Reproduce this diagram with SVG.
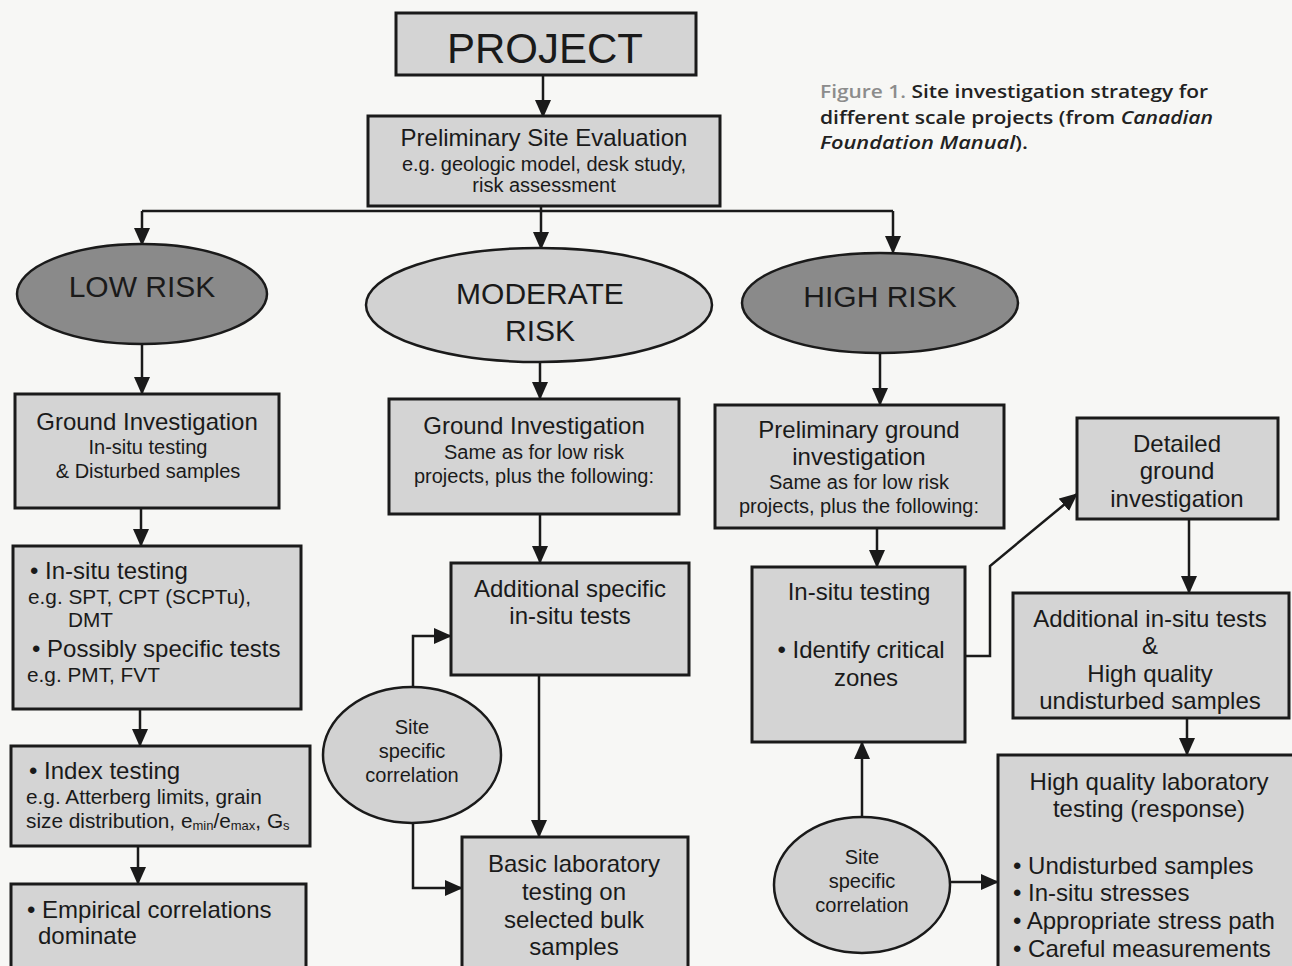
<svg xmlns="http://www.w3.org/2000/svg" width="1292" height="966" viewBox="0 0 1292 966">
<defs>
<marker id="ah" markerUnits="userSpaceOnUse" markerWidth="18" markerHeight="16" refX="17" refY="8" orient="auto">
<path d="M0,0 L18,8 L0,16 Z" fill="#1a1a1a"/>
</marker>
</defs>
<style>
.box{fill:#d4d4d4;stroke:#1a1a1a;stroke-width:3}
.ell-dark{fill:#8a8a8a;stroke:#1a1a1a;stroke-width:2.5}
.ell-light{fill:#d2d2d2;stroke:#1a1a1a;stroke-width:2.5}
.t{font-family:"Liberation Sans",Arial,sans-serif;fill:#1a1a1a}
.c{text-anchor:middle}
.m{font-size:24px}
.s{font-size:20px}
.s2{font-size:20.8px}
.big{font-size:30px}
.conn path{fill:none;stroke:#1a1a1a;stroke-width:2.5}
.arr{marker-end:url(#ah)}
.cap{font-family:"Open Sans","Liberation Sans",sans-serif;font-weight:600;font-size:18px;fill:#222}
</style>
<rect x="0" y="0" width="1292" height="966" fill="#f7f7f5"/>

<g class="conn" id="connectors">
<path class="arr" d="M543,75 V117"/>
<path d="M142,211 H893"/>
<path class="arr" d="M541,206 V249"/>
<path class="arr" d="M142,211 V245"/>
<path class="arr" d="M893,211 V253"/>
<path class="arr" d="M142,344 V394"/>
<path class="arr" d="M141,508 V546"/>
<path class="arr" d="M140,709 V746"/>
<path class="arr" d="M138,846 V884"/>
<path class="arr" d="M540,362 V399"/>
<path class="arr" d="M540,514 V563"/>
<path class="arr" d="M539,675 V837"/>
<path class="arr" d="M413,687 V636 H451"/>
<path class="arr" d="M413,823 V888 H462"/>
<path class="arr" d="M880,353 V405"/>
<path class="arr" d="M877,528 V567"/>
<path class="arr" d="M965,656 H990 V566 L1077,494"/>
<path class="arr" d="M1189,519 V593"/>
<path class="arr" d="M1187,718 V755"/>
<path class="arr" d="M862,817 V742"/>
<path class="arr" d="M950,882 H998"/>
</g>

<g id="project">
<rect class="box" x="396" y="13" width="300" height="62"/>
<text class="t c" x="545" y="63" font-size="42">PROJECT</text>
</g>

<g id="prelim-site-eval">
<rect class="box" x="368" y="116" width="352" height="90"/>
<text class="t c m" x="544" y="146">Preliminary Site Evaluation</text>
<text class="t c s" x="544" y="171">e.g. geologic model, desk study,</text>
<text class="t c s" x="544" y="192">risk assessment</text>
</g>

<g id="low-risk">
<ellipse class="ell-dark" cx="142" cy="294" rx="125" ry="50"/>
<text class="t c big" x="142" y="297">LOW RISK</text>
</g>

<g id="moderate-risk">
<ellipse class="ell-light" cx="539" cy="305" rx="173" ry="57"/>
<text class="t c big" x="540" y="304">MODERATE</text>
<text class="t c big" x="540" y="341">RISK</text>
</g>

<g id="high-risk">
<ellipse class="ell-dark" cx="880" cy="303" rx="138" ry="50"/>
<text class="t c big" x="880" y="307">HIGH RISK</text>
</g>

<g id="low-ground-investigation">
<rect class="box" x="15" y="394" width="264" height="114"/>
<text class="t c m" x="147" y="430">Ground Investigation</text>
<text class="t c s" x="148" y="454">In-situ testing</text>
<text class="t c s" x="148" y="478">&amp; Disturbed samples</text>
</g>

<g id="low-insitu">
<rect class="box" x="13" y="546" width="288" height="163"/>
<text class="t m" x="30" y="579">• In-situ testing</text>
<text class="t s2" x="28" y="604">e.g. SPT, CPT (SCPTu),</text>
<text class="t s2" x="68" y="627">DMT</text>
<text class="t m" x="32" y="657">• Possibly specific tests</text>
<text class="t s2" x="27" y="682">e.g. PMT, FVT</text>
</g>

<g id="low-index">
<rect class="box" x="11" y="746" width="299" height="100"/>
<text class="t m" x="29" y="779">• Index testing</text>
<text class="t s2" x="26" y="804">e.g. Atterberg limits, grain</text>
<text class="t s2" x="26" y="828">size distribution, e<tspan font-size="13" dy="2">min</tspan><tspan dy="-2">/e</tspan><tspan font-size="13" dy="2">max</tspan><tspan dy="-2">, G</tspan><tspan font-size="13" dy="2">s</tspan></text>
</g>

<g id="low-empirical">
<rect class="box" x="11" y="884" width="295" height="95"/>
<text class="t m" x="27" y="918">• Empirical correlations</text>
<text class="t m" x="38" y="944">dominate</text>
</g>

<g id="mod-ground-investigation">
<rect class="box" x="389" y="399" width="290" height="115"/>
<text class="t c m" x="534" y="434">Ground Investigation</text>
<text class="t c s" x="534" y="459">Same as for low risk</text>
<text class="t c s" x="534" y="483">projects, plus the following:</text>
</g>

<g id="mod-additional">
<rect class="box" x="451" y="563" width="238" height="112"/>
<text class="t c m" x="570" y="597">Additional specific</text>
<text class="t c m" x="570" y="624">in-situ tests</text>
</g>

<g id="mod-site-correlation">
<ellipse class="ell-light" cx="412" cy="755" rx="89" ry="68"/>
<text class="t c s" x="412" y="734">Site</text>
<text class="t c s" x="412" y="758">specific</text>
<text class="t c s" x="412" y="782">correlation</text>
</g>

<g id="mod-basic-lab">
<rect class="box" x="462" y="837" width="226" height="140"/>
<text class="t c m" x="574" y="872">Basic laboratory</text>
<text class="t c m" x="574" y="900">testing on</text>
<text class="t c m" x="574" y="928">selected bulk</text>
<text class="t c m" x="574" y="955">samples</text>
</g>

<g id="high-prelim-ground">
<rect class="box" x="715" y="405" width="289" height="123"/>
<text class="t c m" x="859" y="438">Preliminary ground</text>
<text class="t c m" x="859" y="465">investigation</text>
<text class="t c s" x="859" y="489">Same as for low risk</text>
<text class="t c s" x="859" y="513">projects, plus the following:</text>
</g>

<g id="high-insitu">
<rect class="box" x="752" y="567" width="213" height="175"/>
<text class="t c m" x="859" y="600">In-situ testing</text>
<text class="t c m" x="861" y="658">• Identify critical</text>
<text class="t c m" x="866" y="686">zones</text>
</g>

<g id="high-detailed">
<rect class="box" x="1077" y="418" width="201" height="101"/>
<text class="t c m" x="1177" y="452">Detailed</text>
<text class="t c m" x="1177" y="479">ground</text>
<text class="t c m" x="1177" y="507">investigation</text>
</g>

<g id="high-additional">
<rect class="box" x="1013" y="593" width="276" height="125"/>
<text class="t c m" x="1150" y="627">Additional in-situ tests</text>
<text class="t c m" x="1150" y="654">&amp;</text>
<text class="t c m" x="1150" y="682">High quality</text>
<text class="t c m" x="1150" y="709">undisturbed samples</text>
</g>

<g id="high-site-correlation">
<ellipse class="ell-light" cx="862" cy="885" rx="88" ry="68"/>
<text class="t c s" x="862" y="864">Site</text>
<text class="t c s" x="862" y="888">specific</text>
<text class="t c s" x="862" y="912">correlation</text>
</g>

<g id="high-lab">
<rect class="box" x="998" y="755" width="300" height="225"/>
<text class="t c m" x="1149" y="790">High quality laboratory</text>
<text class="t c m" x="1149" y="817">testing (response)</text>
<text class="t m" x="1013" y="874">• Undisturbed samples</text>
<text class="t m" x="1013" y="901">• In-situ stresses</text>
<text class="t m" x="1013" y="929">• Appropriate stress path</text>
<text class="t m" x="1013" y="957">• Careful measurements</text>
</g>

<g id="caption">
<text class="cap" x="820" y="98" textLength="388" lengthAdjust="spacingAndGlyphs"><tspan fill="#8c8c8c">Figure 1.</tspan> Site investigation strategy for</text>
<text class="cap" x="820" y="124" textLength="393" lengthAdjust="spacingAndGlyphs">different scale projects (from <tspan font-style="italic">Canadian</tspan></text>
<text class="cap" x="820" y="149" textLength="208" lengthAdjust="spacingAndGlyphs"><tspan font-style="italic">Foundation Manual</tspan>).</text>
</g>
</svg>
